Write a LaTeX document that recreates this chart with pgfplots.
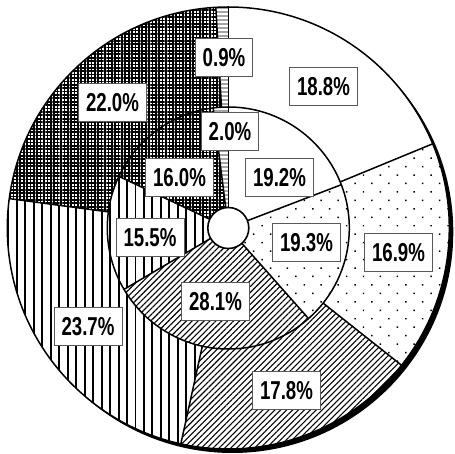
\documentclass[border=0pt]{standalone}
\usepackage{pgfplots}
\pgfplotsset{compat=1.18}
\usepackage{fontspec}
\setmainfont{Liberation Sans}
\newfontfamily\labfont[FakeStretch=0.72]{Liberation Sans}
\usetikzlibrary{patterns.meta}

% data: value/style, clockwise from 12 o'clock
\def\outerdata{18.8/pnone,16.9/pdots,17.8/pdiag,23.7/pvert,22.0/pgrid,0.9/pdash}
\def\innerdata{19.2/pnone,19.3/pdots,28.1/pdiag,15.5/pvert,16.0/pgrid,2.0/pdash}
\def\total{100.1}

\tikzset{
  pnone/.style={fill=white},
  pdots/.style={pattern={Dots[angle=45,distance=12pt,radius=1.05pt]}},
  pdiag/.style={pattern={Lines[angle=45,distance=4.2pt,line width=1.1pt]}},
  pvert/.style={pattern={Lines[angle=90,distance=8.5pt,line width=1.9pt]}},
  pgrid/.style={pattern={Hatch[angle=0,distance=3.4pt,line width=1.7pt]}},
  pdash/.style={pattern={Lines[angle=0,distance=4pt,line width=0.9pt]}},
  lab/.style={draw=black!65,line width=0.8bp,fill=white,inner xsep=7.5bp,inner ysep=0pt,
     minimum height=38bp,font=\labfont\bfseries\fontsize{26}{26}\selectfont,
     text height=18.5bp,text depth=0pt},
}

\newcommand\ring[3]{%
  \gdef\cum{0}%
  \foreach \v/\s in #3 {%
    \pgfmathsetmacro\aA{90-\cum*(360/\total)}%
    \pgfmathsetmacro\newcum{\cum+\v}%
    \pgfmathsetmacro\aB{90-\newcum*(360/\total)}%
    \fill[\s] (\aA:#2) arc[start angle=\aA,end angle=\aB,radius=#2]
       -- (\aB:#1) arc[start angle=\aB,end angle=\aA,radius=#1] -- cycle;
    \draw[line width=1.5bp] (\aA:#1) -- (\aA:#2);
    \xdef\cum{\newcum}%
  }%
}

\begin{document}
\begin{tikzpicture}
\begin{axis}[width=455bp,height=454bp,scale only axis,
  xmin=0,xmax=455,ymin=0,ymax=454,hide axis,clip=false]
\addplot[draw=none] coordinates {(0,0) (455,454)};
\pgfplotsextra{
\begin{scope}[shift={(axis cs:228.3,226)}]
  \fill[black] (4bp,-4bp) circle[radius=221bp];
  \fill[white] (0,0) circle[radius=221bp];
  \ring{121bp}{221bp}{\outerdata}
  \ring{20bp}{121bp}{\innerdata}
  \draw[line width=1.5bp] (0,0) circle[radius=221bp];
  \draw[line width=1.5bp] (0,0) circle[radius=121bp];
  \filldraw[fill=white,line width=1.6bp] (0,0) circle[radius=20.5bp];
\end{scope}
}
\node[lab] at (axis cs:224,397) {0.9\%};
\node[lab] at (axis cs:323.5,368) {18.8\%};
\node[lab] at (axis cs:112.5,351.5) {22.0\%};
\node[lab] at (axis cs:230,323) {2.0\%};
\node[lab] at (axis cs:179.5,277) {16.0\%};
\node[lab] at (axis cs:279.5,276.5) {19.2\%};
\node[lab] at (axis cs:150,216.5) {15.5\%};
\node[lab] at (axis cs:306.5,211.5) {19.3\%};
\node[lab] at (axis cs:398.5,201.5) {16.9\%};
\node[lab] at (axis cs:215.5,152.5) {28.1\%};
\node[lab] at (axis cs:88,127.5) {23.7\%};
\node[lab] at (axis cs:286.5,64) {17.8\%};
\end{axis}
\pgfresetboundingbox
\useasboundingbox (current axis.south west) rectangle (current axis.north east);
\end{tikzpicture}
\end{document}
